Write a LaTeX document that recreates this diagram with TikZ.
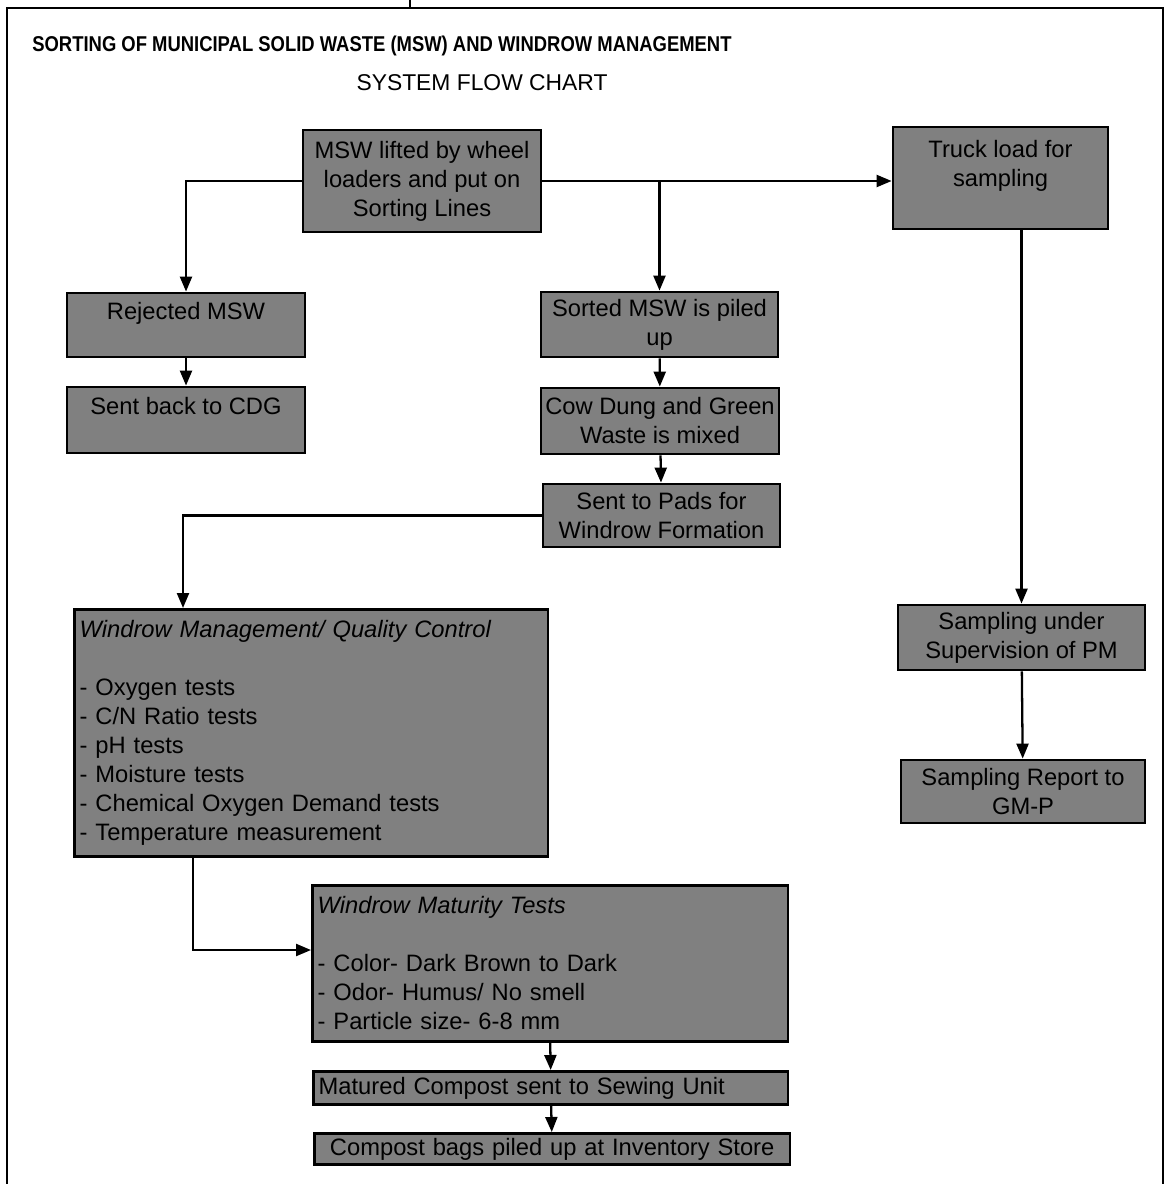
\documentclass[tikz,border=0pt]{standalone}
\usepackage{fontspec}
\setmainfont{Liberation Sans}
\usetikzlibrary{arrows.meta,positioning,calc}
\tikzset{
  flow/box/.style={draw, line width=1.6pt, fill=black!50, align=center, inner sep=2pt,
    font=\fontsize{13.5}{16.5}\selectfont},
  flow/list/.style={flow/box, anchor=north west, align=left, inner xsep=3pt, inner ysep=4pt},
  flow/head/.style={font=\fontsize{12.2}{14}\selectfont\bfseries, inner sep=0pt},
  flow/sub/.style={font=\fontsize{13}{15}\selectfont, inner sep=0pt},
  arr/.style={-{Triangle[length=3mm,width=2.4mm]}, line width=1.3pt},
  frame/.style={line width=1.1pt}
}

\begin{document}
\begin{tikzpicture}[x=0.2mm,y=-0.2mm]
\useasboundingbox (0,0) rectangle (1172,1184);
% page frame
\draw[frame] (7,1184) -- (7,8) -- (1163,8) -- (1163,1184);
\draw[frame] (410,0) -- (410,8);
\node[flow/head, anchor=base west] (title) at (32,52) {\scalebox{0.86}[1]{SORTING OF MUNICIPAL SOLID WASTE (MSW) AND WINDROW MANAGEMENT}};
\node[flow/sub, anchor=base] (subtitle) at (482,91) {SYSTEM FLOW CHART};

% sorting lines
\node[flow/box, minimum width=47.6mm, minimum height=20.4mm] (lift) at (422,181) {MSW lifted by wheel\\loaders and put on\\Sorting Lines};
\node[flow/box, minimum width=43mm, minimum height=20.4mm] (truck) at (1000.5,178) {Truck load for\\sampling\\\mbox{}};
\node[flow/box, minimum width=47.6mm, minimum height=12.8mm] (reject) at (186,325) {Rejected MSW\\\mbox{}};
\node[flow/box, minimum width=47.6mm, minimum height=13.2mm] (back) at (186,420) {Sent back to CDG\\\mbox{}};
\node[flow/box, minimum width=47.4mm, minimum height=13mm] (sorted) at (659.5,324.5) {Sorted MSW is piled\\up};
\node[flow/box, minimum width=47.6mm, minimum height=13.2mm] (dung) at (660,421) {Cow Dung and Green\\Waste is mixed};
\node[flow/box, minimum width=47.4mm, minimum height=12.6mm] (pads) at (661.5,515.5) {Sent to Pads for\\Windrow Formation};

% sampling
\node[flow/box, minimum width=49.4mm, minimum height=13mm] (super) at (1021.5,637.5) {Sampling under\\Supervision of PM};
\node[flow/box, minimum width=48.8mm, minimum height=12.6mm] (report) at (1023,791.5) {Sampling Report to\\GM-P};

% windrow management
\node[flow/list, text width=92.6mm, minimum height=49.4mm] (qc) at (73,608) {\textit{Windrow Management/ Quality Control}\\[16.5pt]
  - Oxygen tests\\- C/N Ratio tests\\- pH tests\\- Moisture tests\\- Chemical Oxygen Demand tests\\- Temperature measurement};
\node[flow/list, text width=93mm, minimum height=31.2mm] (mature) at (311,884) {\textit{Windrow Maturity Tests}\\[16.5pt]
  - Color- Dark Brown to Dark\\- Odor- Humus/ No smell\\- Particle size- 6-8 mm};
\node[flow/list, text width=92.8mm, minimum height=6.6mm, inner ysep=1pt] (sewing) at (312,1070) {Matured Compost sent to Sewing Unit};
\node[flow/list, text width=93mm, minimum height=6.2mm, inner ysep=1pt, align=center] (store) at (313,1132) {Compost bags piled up at Inventory Store};

\coordinate (qcin) at (183,608);
\coordinate (qcout) at (193,855);
\coordinate (matin) at (311,950);

\draw[arr] (lift.west) -| (reject.north);
\draw[arr] (lift.east) -- (lift.east -| truck.west);
\draw[arr] (lift.east -| sorted.north) -- (sorted.north);
\draw[arr] (reject) -- (back);
\draw[arr] (sorted) -- (dung);
\draw[arr] (dung) -- (pads);
\draw[arr] (pads.west) -| (qcin);
\draw[arr] (truck.south -| super.north) -- (super.north);
\draw[arr] (super) -- (report);
\draw[arr] (qcout) |- (matin);
\draw[arr] (mature.south) -- (sewing.north);
\draw[arr] (sewing) -- (store);
\end{tikzpicture}
\end{document}
